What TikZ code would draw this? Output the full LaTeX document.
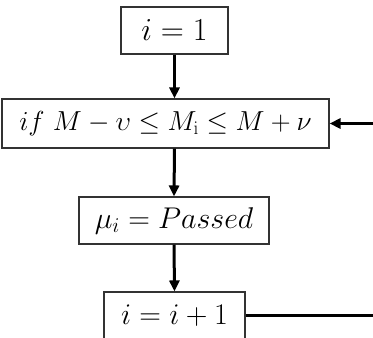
\documentclass[tikz,border=0pt]{standalone}
\usepackage{fix-cm}
\usetikzlibrary{arrows.meta}
\begin{document}
\begin{tikzpicture}[x=1pt,y=-1pt,
  box/.style={draw=black!80,line width=1.1pt,inner sep=0pt,font=\fontsize{30}{34}\selectfont},
  conn/.style={line width=3pt,-{Triangle[length=11pt,width=10pt]}},
  plainconn/.style={line width=3pt}]
\useasboundingbox (0,0) rectangle (373,338);
\node[box,minimum width=107pt,minimum height=47pt,font=\fontsize{32}{36}\selectfont] (b1) at (174.5,30.5) {$i=1$};
\node[box,minimum width=327pt,minimum height=49pt,font=\fontsize{27.5}{32}\selectfont] (b2) at (165.5,123.5) {$if\ M-\upsilon\le M_{\mathrm{i}}\le M+\nu$};
\node[box,minimum width=190pt,minimum height=47pt] (b3) at (174,220.5) {$\mu_i=Passed$};
\node[box,minimum width=141pt,minimum height=47pt] (b4) at (174.5,315.5) {$i=i+1$};
\coordinate (r) at (374.2,315.5);
\draw[conn] (b1.south) -- (b1.south |- b2.north);
\draw[conn] (b1.south |- b2.south) -- (b3.north);
\draw[conn] (b3.south) -- (b4.north);
\draw[plainconn] (b4.east) -- (r);
\draw[conn] (r) -- (r |- b2.east) -- (b2.east);
\end{tikzpicture}
\end{document}
